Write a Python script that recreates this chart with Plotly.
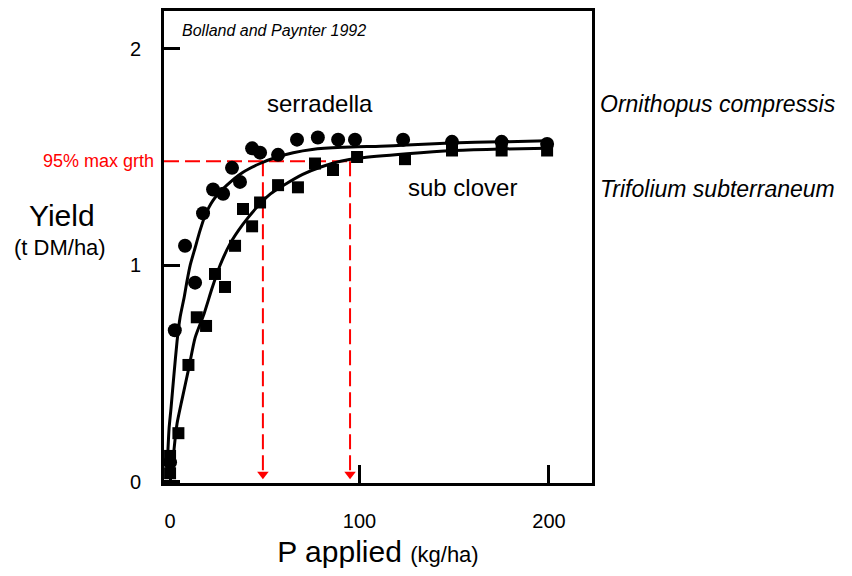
import plotly.graph_objects as go

# ---- data ----
serradella_P = [0, 2.5, 7.9, 13.2, 17.4, 22.7, 28, 32.7, 36.9, 43.3, 47.5, 57, 67, 78, 88.7, 97.6, 123, 148.8, 175, 199]
serradella_Y = [0.09, 0.70, 1.09, 0.92, 1.24, 1.35, 1.33, 1.45, 1.385, 1.54, 1.52, 1.51, 1.58, 1.59, 1.58, 1.58, 1.58, 1.57, 1.57, 1.56]

subclover_P = [0, 0, 4.4, 9.7, 14.1, 19, 23.7, 29, 34.3, 38.5, 43.3, 47.5, 57, 67.5, 76.5, 86, 98.7, 124, 148.8, 175, 199]
subclover_Y = [0.04, 0.12, 0.225, 0.54, 0.76, 0.72, 0.96, 0.90, 1.09, 1.26, 1.18, 1.29, 1.37, 1.36, 1.47, 1.44, 1.50, 1.49, 1.53, 1.53, 1.53]

serr_curve_P = [-1.6, -1.1, -0.5, 0.5, 2.1, 3.7, 5.3, 7.4, 9.0, 10.6, 13.2, 15.8, 18.5, 22.7, 30, 38.5, 47.5, 56.5, 65, 75, 91, 111, 125, 148, 174, 199]
serr_curve_Y = [0.04, 0.15, 0.25, 0.34, 0.50, 0.65, 0.76, 0.85, 0.93, 1.00, 1.08, 1.16, 1.23, 1.30, 1.37, 1.43, 1.47, 1.50, 1.52, 1.535, 1.545, 1.55, 1.555, 1.565, 1.57, 1.575]

sub_curve_P = [1.1, 2.1, 3.7, 6.3, 10.0, 13.2, 17.9, 22.2, 26.4, 31.7, 38.5, 46, 53, 60, 70, 80, 90, 100, 125, 150, 175, 199]
sub_curve_Y = [0.04, 0.15, 0.27, 0.38, 0.53, 0.665, 0.775, 0.895, 1.00, 1.10, 1.19, 1.27, 1.33, 1.37, 1.42, 1.455, 1.48, 1.495, 1.515, 1.53, 1.537, 1.54]

max95_Y = 1.48
max95_P = [49, 95]

x_ticks = [0, 100, 200]
y_ticks = [0, 1, 2]

FONT = "Liberation Sans, Arial, sans-serif"
RED = "#ff0000"

# page offset (body margin) and plot-area geometry in window pixels
OFF = 8
PL, PR, PT, PB = 164, 592, 8, 483

fig = go.Figure()

# red 95% guide lines
fig.add_trace(go.Scatter(x=[-3.2, max95_P[1]], y=[max95_Y, max95_Y], mode="lines",
                         line=dict(color=RED, width=2, dash="15px,6px"), hoverinfo="skip"))
for p in max95_P:
    fig.add_trace(go.Scatter(x=[p, p], y=[max95_Y, 0.03], mode="lines",
                             line=dict(color=RED, width=2, dash="15px,6px"), hoverinfo="skip"))
fig.add_trace(go.Scatter(x=max95_P, y=[0.035, 0.035], mode="markers",
                         marker=dict(symbol="triangle-down", size=10, color=RED),
                         hoverinfo="skip", cliponaxis=False))

# fitted curves
fig.add_trace(go.Scatter(x=serr_curve_P, y=serr_curve_Y, mode="lines",
                         line=dict(color="black", width=3, shape="spline", smoothing=0.6)))
fig.add_trace(go.Scatter(x=sub_curve_P, y=sub_curve_Y, mode="lines",
                         line=dict(color="black", width=3, shape="spline", smoothing=0.6)))

# data points
fig.add_trace(go.Scatter(x=serradella_P, y=serradella_Y, mode="markers", name="serradella",
                         marker=dict(symbol="circle", size=14, color="black")))
fig.add_trace(go.Scatter(x=subclover_P, y=subclover_Y, mode="markers", name="sub clover",
                         marker=dict(symbol="square", size=12, color="black")))

W, H = 852 - 2 * OFF, 576 - 2 * OFF
fig.update_layout(
    width=W, height=H,
    margin=dict(l=PL - OFF, r=OFF + W - PR, t=PT - OFF, b=OFF + H - PB, pad=0),
    paper_bgcolor="white", plot_bgcolor="white",
    showlegend=False,
    font=dict(family=FONT, color="black"),
    xaxis=dict(range=[-3.2, 222.7], showgrid=False, zeroline=False,
               showline=True, linecolor="black", linewidth=3, mirror=True,
               ticks="inside", ticklen=18, tickwidth=3, tickcolor="black",
               tickvals=x_ticks, ticktext=[str(v) for v in x_ticks],
               tickfont=dict(size=20, family=FONT), ticklabelstandoff=18,
               title=dict(text="P applied <span style='font-size:22px'>(kg/ha)</span>",
                          font=dict(size=30, family=FONT), standoff=12)),
    yaxis=dict(range=[-0.005, 2.174], showgrid=False, zeroline=False,
               showline=True, linecolor="black", linewidth=3, mirror=True,
               ticks="inside", ticklen=16, tickwidth=3, tickcolor="black",
               tickvals=y_ticks, ticktext=[str(v) for v in y_ticks],
               tickfont=dict(size=20, family=FONT), ticklabelstandoff=16),
)

annotations = [
    dict(text="Bolland and Paynter 1992", x=180, y=28, xanchor="left", yanchor="middle",
         font=dict(size=16, family=FONT, style="italic")),
    dict(text="serradella", x=320, y=101, xanchor="center", yanchor="middle",
         font=dict(size=24, family=FONT)),
    dict(text="sub clover", x=462, y=186, xanchor="center", yanchor="middle",
         font=dict(size=24, family=FONT)),
    dict(text="Ornithopus compressis", x=598, y=102, xanchor="left", yanchor="middle",
         font=dict(size=23, family=FONT, style="italic")),
    dict(text="Trifolium subterraneum", x=598, y=187, xanchor="left", yanchor="middle",
         font=dict(size=23, family=FONT, style="italic")),
    dict(text="95% max grth", x=156, y=159, xanchor="right", yanchor="middle",
         font=dict(size=18, family=FONT, color=RED)),
    dict(text="Yield", x=62, y=214, xanchor="center", yanchor="middle",
         font=dict(size=30, family=FONT)),
    dict(text="(t DM/ha)", x=60, y=246, xanchor="center", yanchor="middle",
         font=dict(size=22, family=FONT)),
]
for a in annotations:
    px, py = a.pop("x"), a.pop("y")
    fig.add_annotation(x=(px - PL) / (PR - PL), y=(PB - py) / (PB - PT),
                       xref="paper", yref="paper", showarrow=False, **a)

fig.write_html("out.html")
